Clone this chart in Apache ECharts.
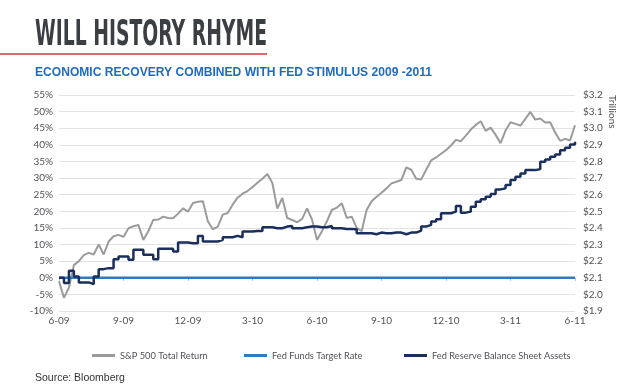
<!DOCTYPE html>
<html><head><meta charset="utf-8">
<script src="https://cdn.jsdelivr.net/npm/echarts@6/dist/echarts.min.js"></script>
<style>html,body{margin:0;padding:0;background:#fff}#c{width:640px;height:387px}</style>
</head><body><div id="c"></div>
<script>
// ---- data ----
var xTickLabels = ['6-09','9-09','12-09','3-10','6-10','9-10','12-10','3-11','6-11'];
var leftTicks = [-10,-5,0,5,10,15,20,25,30,35,40,45,50,55];
var rightTicks = [1.9,2.0,2.1,2.2,2.3,2.4,2.5,2.6,2.7,2.8,2.9,3.0,3.1,3.2];
// weekly points, June 2009 .. June 2011 (index 0..104)
var spxReturn = [-1, -6, -3, 3.8, 5, 6.8, 7.5, 7, 10, 7,
  10.9, 12.5, 12.9, 12.3, 14.9, 15.5, 15.9, 11.4, 14, 17.4,
  17.5, 18.4, 18, 17.9, 19.3, 20.9, 19.9, 22.5, 22.9, 23,
  17, 14.6, 15.4, 19, 19.5, 22, 24.1, 25.3, 26.1, 27.3,
  28.6, 29.8, 31.2, 28.5, 20.8, 24, 18, 17.4, 16.7, 17.7,
  20.9, 17.5, 11.4, 14, 17, 20.4, 21.1, 22.4, 18, 18.4,
  15, 14, 20.4, 23, 24.4, 25.6, 26.9, 28.4, 28.9, 29.4,
  33.2, 32.5, 29.8, 29.6, 32.5, 35.3, 36.2, 37.3, 38.4, 39.8,
  41.5, 41.1, 42.8, 44.6, 46, 47.1, 44.2, 45.2, 43, 40.5,
  44.3, 46.8, 46.3, 45.8, 47.8, 49.9, 47.6, 47.9, 46.7, 46.8,
  43.7, 41.2, 41.8, 41.3, 45.9];
var fedFundsRate = [0,0,0,0,0,0,0,0,0,0, 0,0,0,0,0,0,0,0,0,0, 0,0,0,0,0,0,0,0,0,0,
  0,0,0,0,0,0,0,0,0,0, 0,0,0,0,0,0,0,0,0,0, 0,0,0,0,0,0,0,0,0,0,
  0,0,0,0,0,0,0,0,0,0, 0,0,0,0,0,0,0,0,0,0, 0,0,0,0,0,0,0,0,0,0,
  0,0,0,0,0,0,0,0,0,0, 0,0,0,0,0];
var fedBalanceSheet = [2.100, 2.068, 2.142, 2.108, 2.072, 2.072, 2.062, 2.108, 2.152, 2.158,
  2.158, 2.212, 2.228, 2.228, 2.208, 2.268, 2.268, 2.238, 2.238, 2.212,
  2.274, 2.274, 2.274, 2.258, 2.312, 2.312, 2.308, 2.308, 2.352, 2.318,
  2.318, 2.318, 2.328, 2.344, 2.344, 2.352, 2.344, 2.378, 2.378, 2.382,
  2.382, 2.404, 2.404, 2.398, 2.398, 2.408, 2.412, 2.398, 2.398, 2.404,
  2.408, 2.408, 2.404, 2.404, 2.412, 2.398, 2.398, 2.394, 2.394, 2.392,
  2.368, 2.368, 2.368, 2.362, 2.372, 2.368, 2.368, 2.372, 2.372, 2.362,
  2.372, 2.372, 2.384, 2.408, 2.418, 2.438, 2.452, 2.488, 2.488, 2.498,
  2.532, 2.492, 2.498, 2.528, 2.558, 2.572, 2.588, 2.604, 2.632, 2.638,
  2.658, 2.688, 2.708, 2.728, 2.748, 2.748, 2.754, 2.798, 2.812, 2.828,
  2.842, 2.868, 2.882, 2.902, 2.918];
var seriesNames = ['S&P 500 Total Return', 'Fed Funds Target Rate', 'Fed Reserve Balance Sheet Assets'];

// ---- helpers ----
function pairs(arr){ return arr.map(function(v,i){ return [i, v]; }); }
function fitScale(text, font, target){
  var ctx = document.createElement('canvas').getContext('2d');
  ctx.font = font; var w = ctx.measureText(text).width;
  return w > 0 ? target / w : 1;
}
var titleFont = 'bold 35px "Liberation Sans Narrow", "DejaVu Sans Condensed", sans-serif';
var subFont = 'bold 12px "Liberation Sans", Arial, sans-serif';
var titleText = 'WILL HISTORY RHYME';
var subText = 'ECONOMIC RECOVERY COMBINED WITH FED STIMULUS 2009 -2011';
var titleScale = fitScale(titleText, titleFont, 232);
var subScale = fitScale(subText, subFont, 397);

var chart = echarts.init(document.getElementById('c'), null, {renderer:'canvas'});
var lblColor = '#505256';
function legendAt(left, name){
  return {
    left: left, top: 346, itemWidth: 23, itemHeight: 3, icon: 'rect',
    textStyle: {color: lblColor, fontSize: 9.3, fontFamily: 'Lato, sans-serif'},
    data: [name]
  };
}
chart.setOption({
  animation: false,
  backgroundColor: '#fff',
  grid: {left: 59, right: 65, top: 95, bottom: 76},
  legend: [legendAt(87, seriesNames[0]), legendAt(239, seriesNames[1]), legendAt(399, seriesNames[2])],
  xAxis: [{
    type: 'value', min: 0, max: 104, interval: 13,
    axisLine: {show: false, onZero: false}, axisTick: {show: false},
    splitLine: {show: false},
    axisLabel: {color: lblColor, fontSize: 10, fontFamily: 'Lato, sans-serif', margin: 5,
      formatter: function(v){ return xTickLabels[Math.round(v/13)]; }}
  }, {
    type: 'value', min: 0, max: 104, interval: 13, position: 'bottom',
    axisLine: {show: true, onZero: true, lineStyle: {color: '#bbb'}},
    axisTick: {show: true, length: 3, lineStyle: {color: '#bbb'}},
    axisLabel: {show: false}, splitLine: {show: false}
  }],
  yAxis: [{
    type: 'value', min: -10, max: 55, interval: 5,
    axisLine: {show: false}, axisTick: {show: false},
    splitLine: {lineStyle: {color: '#e3e3e3', width: 1}},
    axisLabel: {color: lblColor, fontSize: 10, fontFamily: 'Lato, sans-serif', margin: 6,
      formatter: function(v){ return v + '%'; }}
  }, {
    type: 'value', min: 1.9, max: 3.2, interval: 0.1, position: 'right',
    axisLine: {show: false}, axisTick: {show: false}, splitLine: {show: false},
    axisLabel: {color: lblColor, fontSize: 10, fontFamily: 'Lato, sans-serif', margin: 8,
      formatter: function(v){ return '$' + v.toFixed(1); }}
  }],
  series: [{
    name: seriesNames[0], type: 'line', xAxisIndex: 0, yAxisIndex: 0,
    data: pairs(spxReturn), showSymbol: false, symbol: 'none',
    lineStyle: {color: '#9b9b9b', width: 2}, itemStyle: {color: '#9b9b9b'}, z: 3
  }, {
    name: seriesNames[1], type: 'line', xAxisIndex: 0, yAxisIndex: 0,
    data: pairs(fedFundsRate), showSymbol: false, symbol: 'none',
    lineStyle: {color: '#2b7bc6', width: 2.5}, itemStyle: {color: '#2b7bc6'}, z: 4
  }, {
    name: seriesNames[2], type: 'line', xAxisIndex: 0, yAxisIndex: 1, step: 'end',
    data: pairs(fedBalanceSheet), showSymbol: false, symbol: 'none',
    lineStyle: {color: '#1b2f5e', width: 2.5}, itemStyle: {color: '#1b2f5e'}, z: 5
  }],
  graphic: [{
    type: 'text', left: 35, top: 18, scaleX: titleScale,
    style: {text: titleText, font: titleFont, fill: '#3b3e43'}
  }, {
    type: 'rect', shape: {x: 0, y: 53, width: 267, height: 2}, style: {fill: '#e5676b'}
  }, {
    type: 'text', x: 35, y: 73, scaleX: subScale,
    style: {text: subText, font: subFont, fill: '#1e6cc0', textVerticalAlign: 'middle'}
  }, {
    type: 'text', x: 612, y: 95, rotation: -Math.PI/2,
    style: {text: 'Trillions', font: '10px Lato, sans-serif', fill: lblColor, textAlign: 'left', textVerticalAlign: 'middle'}
  }, {
    type: 'text', x: 35, y: 378,
    style: {text: 'Source: Bloomberg', font: '10.5px "Liberation Sans", Arial, sans-serif', fill: '#333', textVerticalAlign: 'middle'}
  }]
});
</script></body></html>
